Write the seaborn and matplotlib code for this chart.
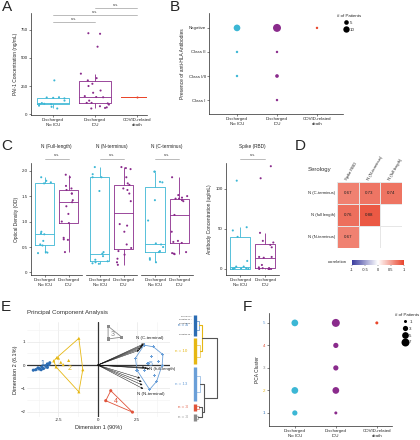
import numpy as np
import pandas as pd
import seaborn as sns
import matplotlib.pyplot as plt
from matplotlib.colors import LinearSegmentedColormap, Normalize
from matplotlib.cm import ScalarMappable
from matplotlib.lines import Line2D

sns.set_style('ticks')
plt.rcParams['font.family'] = ['Liberation Sans', 'DejaVu Sans']
np.random.seed(3)

# ---- data ----
groups = ['Discharged\nNo ICU', 'Discharged\nICU', 'COVID-related\ndeath']
group_colors = ['#3cb7d5', '#8a2b8c', '#e9462b']

# A: PAI-1 concentration (ng/mL)
pai_noicu = [300, 150, 148, 145, 140, 120, 98, 92, 90, 88, 75, 65, 50]
pai_icu = [720, 715, 600, 360, 320, 300, 270, 250, 210, 190, 160, 152, 150,
           120, 100, 100, 95, 85, 70, 60, 55, 50]
pai_death = [155]

# B: anti-HLA antibodies (# of patients)
hla_levels = ['Class I', 'Class I/II', 'Class II', 'Negative']
hla_group = [0, 0, 0, 1, 1, 1, 1, 2]
hla_class = ['Negative', 'Class II', 'Class I/II', 'Negative', 'Class II', 'Class I/II', 'Class I', 'Negative']
hla_n = [11, 1, 1, 16, 1, 3, 1, 1]

# C: serology (OD / ug/mL)
fl_noicu = [0.38, 0.39, 0.40, 0.53, 0.55, 0.62, 0.75, 0.77, 0.80, 1.75, 1.77, 1.80, 1.87]
fl_icu = [0.40, 0.64, 0.65, 0.68, 0.97, 1.00, 1.15, 1.30, 1.38, 1.42, 1.55, 1.55, 1.62, 1.65, 1.70, 1.87, 1.92]
nt_noicu = [0.17, 0.18, 0.20, 0.22, 0.25, 0.32, 0.37, 0.40, 1.60, 1.87, 1.87, 1.93, 2.07]
nt_icu = [0.15, 0.20, 0.27, 0.35, 0.42, 0.48, 0.55, 0.80, 0.92, 0.95, 1.40, 1.55, 1.62, 1.65,
          1.72, 1.75, 1.87, 2.03, 2.05, 2.07]
ct_noicu = [0.20, 0.25, 0.28, 0.40, 0.42, 0.50, 0.55, 0.57, 1.02, 1.42, 1.77, 1.78, 1.98, 1.98]
ct_icu = [0.36, 0.37, 0.38, 0.40, 0.58, 0.60, 0.62, 0.80, 1.13, 1.40, 1.42, 1.45, 1.45, 1.47, 1.50, 1.52, 1.87]
rbd_noicu = [0, 0, 0, 0.5, 1, 1, 3, 3, 10, 40, 48, 52, 110]
rbd_icu = [0, 0, 0, 0, 0.5, 1, 1, 2, 5, 14, 15, 15, 27, 30, 33, 35, 45, 113, 128]
c_titles = ['N (Full-length)', 'N (N-terminus)', 'N (C-terminus)', 'Spike (RBD)']

# D: correlation
corr_rows = ['N (C-terminus)', 'N (full length)', 'N (N-terminus)']
corr_cols = ['Spike RBD', 'N (N-terminus)', 'N (full length)']
corr_vals = [[0.67, 0.73, 0.74], [0.76, 0.88, np.nan], [0.67, np.nan, np.nan]]

# E: PCA
clust_colors = {1: '#2b6cb3', 2: '#e6b713', 3: '#8a8a8a', 4: '#e0533a', 5: '#6a9fd8'}
e_dim1 = {1: [-4.1, -3.95, -3.8, -3.7, -3.55, -3.45, -3.3, -3.2, -3.1, -3.05, -3.2, -3.6],
          2: [-2.8, -2.6, -2.5, -2.35, -2.2, -2.65, -1.85, -1.2, -0.95, -1.2],
          3: [0.66, 0.66, 1.53],
          4: [0.83, 0.51, 2.21],
          5: [2.4, 2.95, 3.55, 4.15, 4.1, 3.75, 3.3, 2.5, 3.45, 3.0, 3.85, 3.2, 3.6]}
e_dim2 = {1: [-0.22, -0.2, -0.12, -0.16, -0.08, -0.15, -0.05, -0.1, 0.02, 0.1, 0.05, -0.2],
          2: [0.18, 0.32, 0.3, 0.12, 0.02, -0.08, 0.2, 1.15, -0.2, -1.15],
          3: [1.67, 1.12, 1.2],
          4: [-1.1, -1.53, -2.02],
          5: [0.3, 0.86, 0.78, 0.45, 0.0, -0.7, -1.05, -0.22, 0.35, -0.25, 0.15, 0.05, -0.45]}
load_dim1 = [2.95, 2.9, 2.85, 2.75, 2.65, 3.3, 3.15, 3.0, 2.9, 2.85, 2.8, 2.7]
load_dim2 = [0.92, 0.86, 0.8, 0.72, 0.64, -0.16, -0.13, -0.1, -1.02, -0.86, -0.72, -0.56]
load_names = ['N (C-terminal)', 'N (full-length)', 'N (N-terminal)']
dend_leaves = [8, 10, 13, 3, 3]
dend_n = ['n = 4', 'n = 10', 'n = 13', 'n = 3', 'n = 3']
dend_sub_h = [0.12, 0.18, 0.2, 0.14, 0.1]
leaf_names = ['No Serum', 'Negative #1', 'Negative #2', 'Negative #3']

# F: PCA cluster by outcome
pca_group = [0, 0, 0, 1, 1, 1, 1, 1, 2]
pca_cluster = [5, 2, 1, 5, 4, 3, 2, 1, 5]
pca_n = [5, 5, 3, 7, 3, 3, 5, 1, 1]

# ---- figure ----
W, H = 420, 440
fig = plt.figure(figsize=(4.2, 4.4), dpi=100)
FS = 3.2


def px_axes(l, t, r, b):
    return fig.add_axes([l / W, 1 - b / H, (r - l) / W, (b - t) / H])


def small(ax):
    ax.tick_params(labelsize=FS, length=1.5, width=0.4, pad=1)
    for s in ax.spines.values():
        s.set_linewidth(0.5)
    sns.despine(ax=ax)


def sig(ax, x0, x1, y, dy):
    ax.plot([x0, x1], [y, y], color='#b0b0b0', lw=0.6, clip_on=False)
    ax.text((x0 + x1) / 2, y + dy, 'n.s.', fontsize=FS - 0.4, ha='center', va='bottom', color='#444444')


def letter(x, y, s):
    fig.text(x / W, 1 - y / H, s, fontsize=11, va='top', ha='left')


def long_df(vals_list, names):
    rows = []
    for v, g in zip(vals_list, names):
        rows += [(g, x) for x in v]
    return pd.DataFrame(rows, columns=['group', 'value'])


def box_strip(ax, df, order, pal, width, jit):
    sns.boxplot(df, x='group', y='value', hue='group', order=order, hue_order=order, palette=pal,
                fill=False, width=width, linewidth=0.6, showfliers=False, showcaps=False,
                legend=False, ax=ax)
    sns.stripplot(df, x='group', y='value', hue='group', order=order, hue_order=order, palette=pal,
                  size=1.5, jitter=jit, legend=False, ax=ax)
    ax.set_xlabel('')


# A
axA = px_axes(31, 13, 147, 115)
dfA = long_df([pai_noicu, pai_icu, pai_death], groups)
box_strip(axA, dfA, groups, group_colors, 0.75, 0.35)
axA.set_xlim(-0.52, 2.24)
axA.set_ylim(-8, 900)
axA.set_yticks([0, 250, 500, 750])
axA.set_ylabel('PAI-1 Concentration (ng/mL)', fontsize=FS + 0.3, labelpad=2)
small(axA)
sig(axA, 0, 1, 820, 12)
sig(axA, 0, 2, 882, 12)
sig(axA, 1, 2, 944, 12)
letter(2, 0, 'A')

# B
axB = px_axes(209, 13, 343, 114)
dfB = pd.DataFrame({'gx': hla_group, 'cy': [hla_levels.index(c) for c in hla_class],
                    'group': [groups[g] for g in hla_group], 'n': hla_n})
sns.scatterplot(dfB, x='gx', y='cy', hue='group', hue_order=groups, palette=group_colors,
                size='n', sizes=(3, 33), size_norm=(1, 16), edgecolor='none', legend=False, ax=axB)
axB.set_xlim(-0.7, 2.65)
axB.set_ylim(-0.58, 3.62)
axB.set_xticks(range(3), groups)
axB.set_yticks(range(4), hla_levels)
axB.set_xlabel('')
axB.set_ylabel('Presence of anti-HLA Antibodies', fontsize=FS + 0.3, labelpad=2)
small(axB)
hb = [Line2D([], [], marker='o', ls='none', color='black', markeredgewidth=0,
             markersize=np.sqrt(3 + 30 * (v - 1) / 15)) for v in (5, 10)]
axB.legend(hb, ['5', '10'], title='# of Patients', loc='upper left', bbox_to_anchor=(335 / W, 1 - 12 / H),
           bbox_transform=fig.transFigure, frameon=False, fontsize=FS, title_fontsize=FS,
           handletextpad=0.4, labelspacing=0.6, borderpad=0, handlelength=1)
letter(170, 0, 'B')

# C
c_sets = [(fl_noicu, fl_icu), (nt_noicu, nt_icu), (ct_noicu, ct_icu), (rbd_noicu, rbd_icu)]
c_box = [(31, 82), (86, 137), (141, 193), (226, 279)]
for i, ((a, b), (l, r)) in enumerate(zip(c_sets, c_box)):
    ax = px_axes(l, 163, r, 275)
    dfc = long_df([a, b], groups[:2])
    box_strip(ax, dfc, groups[:2], group_colors[:2], 0.8, 0.35)
    ax.set_xlim(-0.58, 1.56)
    small(ax)
    if i == 3:
        ax.set_ylim(-7.5, 132)
        ax.set_yticks([0, 50, 100])
        ax.set_ylabel('Antibody Concentration (ug/mL)', fontsize=FS + 0.3, labelpad=2)
    else:
        ax.set_ylim(-0.05, 2.15)
        ax.set_yticks([0, 0.5, 1.0, 1.5, 2.0], ['0', '0.5', '1.0', '1.5', '2.0'])
        if i == 0:
            ax.set_ylabel('Optical Density (OD)', fontsize=FS + 0.3, labelpad=2)
        else:
            ax.set_ylabel('')
            ax.spines['left'].set_visible(False)
            ax.tick_params(axis='y', left=False, labelleft=False)
    ax.set_xticks([0, 1], groups[:2])
    ax.text(0.5, 1.145, c_titles[i], transform=ax.transAxes, fontsize=FS + 0.2, ha='center', va='center')
    ax.plot([0, 1], [1.036, 1.036], transform=ax.get_xaxis_transform(), color='#b0b0b0', lw=0.6, clip_on=False)
    ax.text(0.5, 1.05, 'n.s.', transform=ax.get_xaxis_transform(), fontsize=FS - 0.4, ha='center', va='bottom',
            color='#444444')
letter(1, 139, 'C')

# D
cmap = LinearSegmentedColormap.from_list('corr', ['#3a3c9e', '#ffffff', '#e8432b'])
axD = px_axes(337, 182, 402, 248)
dfD = pd.DataFrame(corr_vals, index=corr_rows, columns=corr_cols)
sns.heatmap(dfD, ax=axD, cmap=cmap, vmin=-1, vmax=1, annot=True, fmt='.2f',
            annot_kws={'size': FS, 'color': '#222222'}, cbar=False, linewidths=0.4, linecolor='#e6e6e6')
axD.xaxis.tick_top()
axD.tick_params(length=0, labelsize=FS - 0.2, pad=1)
plt.setp(axD.get_xticklabels(), rotation=60, ha='left', rotation_mode='anchor')
plt.setp(axD.get_yticklabels(), rotation=0)
fig.text(319 / W, 1 - 169 / H, 'Serology', fontsize=4.3, ha='center', va='center', color='#333333')
cax = px_axes(352, 260, 404, 265)
cb = fig.colorbar(ScalarMappable(Normalize(-1, 1), cmap), cax=cax, orientation='horizontal')
cb.set_ticks([-1, -0.5, 0, 0.5, 1], labels=['-1', '-0.5', '0', '0.5', '1'])
cb.outline.set_visible(False)
cax.tick_params(labelsize=FS - 0.3, length=1, width=0.3, pad=1)
fig.text(347 / W, 1 - 262 / H, 'correlation', fontsize=FS - 0.2, ha='right', va='center')
letter(295, 139, 'D')

# E
axE = px_axes(27, 322, 170, 417)
rows = []
for k in e_dim1:
    rows += [(k, x, y) for x, y in zip(e_dim1[k], e_dim2[k])]
dfE = pd.DataFrame(rows, columns=['cluster', 'dim1', 'dim2'])
axE.set_xticks([-2.5, 0, 2.5], ['-2.5', '0', '2.5'])
axE.set_yticks([-2, -1, 0, 1])
axE.set_xticks([-3.75, -1.25, 1.25, 3.75], minor=True)
axE.set_yticks([-1.5, -0.5, 0.5, 1.5], minor=True)
axE.grid(True, which='major', color='#e8e8e8', lw=0.5)
axE.grid(True, which='minor', color='#f2f2f2', lw=0.4)
axE.set_axisbelow(True)
for s in axE.spines.values():
    s.set_visible(False)
axE.tick_params(which='both', length=0, labelsize=FS, pad=1)
axE.axhline(0, color='#333333', lw=0.9, zorder=1)
axE.axvline(0, color='#333333', lw=0.9, zorder=1)


def hull(pts):
    pts = sorted(set(pts))

    def cross(o, a, b):
        return (a[0] - o[0]) * (b[1] - o[1]) - (a[1] - o[1]) * (b[0] - o[0])
    lo, up = [], []
    for p in pts:
        while len(lo) >= 2 and cross(lo[-2], lo[-1], p) <= 0:
            lo.pop()
        lo.append(p)
    for p in reversed(pts):
        while len(up) >= 2 and cross(up[-2], up[-1], p) <= 0:
            up.pop()
        up.append(p)
    return lo[:-1] + up[:-1]


for k in e_dim1:
    hp = hull(list(zip(e_dim1[k], e_dim2[k])))
    hx, hy = zip(*(hp + hp[:1]))
    axE.plot(hx, hy, color=clust_colors[k], lw=0.6, zorder=2)
sns.scatterplot(dfE, x='dim1', y='dim2', hue='cluster', style='cluster', palette=clust_colors,
                markers={1: 'o', 2: '^', 3: 's', 4: 'o', 5: 'P'}, s=5, edgecolor='none',
                legend=False, ax=axE, zorder=3)
for k in e_dim1:
    cx, cy = np.mean(e_dim1[k]), np.mean(e_dim2[k])
    axE.text(cx + (0.25 if k == 2 else 0), cy + (-0.25 if k == 2 else 0.15 if k == 1 else 0), str(k),
             color=clust_colors[k], fontsize=5, ha='center', va='center', zorder=4)
for x, y in zip(load_dim1, load_dim2):
    axE.annotate('', xy=(x, y), xytext=(0, 0),
                 arrowprops=dict(arrowstyle='-|>', lw=0.35, color='#111111', mutation_scale=3,
                                 shrinkA=0, shrinkB=0), zorder=5)
axE.text(3.3, 1.17, load_names[0], fontsize=FS, ha='center', va='center', zorder=6)
axE.text(3.25, -0.16, load_names[1], fontsize=FS, ha='left', va='center', zorder=6)
axE.text(3.4, -1.24, load_names[2], fontsize=FS, ha='center', va='center', zorder=6)
axE.set_xlim(-4.5, 4.6)
axE.set_ylim(-2.23, 1.85)
axE.set_xlabel('Dimension 1 (90%)', fontsize=FS + 0.8, labelpad=2)
axE.set_ylabel('Dimension 2 (6.1%)', fontsize=FS + 0.8, labelpad=2)
axE.set_title('Principal Component Analysis', fontsize=FS + 1.2, loc='left', pad=6, color='#333333')
letter(1, 300, 'E')

# dendrogram
axT = px_axes(170, 313, 222, 426)
axT.set_axis_off()
axT.set_xlim(-1.238, 1.238)
axT.set_ylim(41.5, -1.2)
gap = 0.8
starts = np.cumsum([0] + dend_leaves[:-1]) + gap * np.arange(len(dend_leaves))
mids = []
for c, (st, nl) in enumerate(zip(starts, dend_leaves)):
    col = clust_colors[[1, 2, 5, 4, 3][c]]
    axT.vlines(-0.07, st - 0.4, st + nl - 0.6, color=col, lw=2.4)
    mid = st + (nl - 1) / 2
    mids.append(mid)
    axT.text(-0.4, mid, dend_n[c], color=col, fontsize=FS, ha='right', va='center')
    a, b = st + (nl - 1) * 0.25, st + (nl - 1) * 0.75
    h = dend_sub_h[c]
    axT.plot([0, h, h, 0], [a, a, b, b], color=col, lw=0.4)
for nm, p in zip(leaf_names, [0, 1.3, 2.6, 7]):
    axT.text(-0.2, starts[0] + p, nm + ' =', fontsize=1.5, ha='right', va='center')


def link(ya, ha, yb, hb, h, col='#555555'):
    axT.plot([ha, h, h, hb], [ya, ya, yb, yb], color=col, lw=0.8)


link(mids[0], dend_sub_h[0], mids[1], dend_sub_h[1], 0.3, clust_colors[2])
ab = (mids[0] + mids[1]) / 2
link(mids[3], dend_sub_h[3], mids[4], dend_sub_h[4], 0.28)
rg = (mids[3] + mids[4]) / 2
link(mids[2], dend_sub_h[2], rg, 0.28, 0.36)
lb = (mids[2] + rg) / 2
link(ab, 0.3, lb, 0.36, 1.0)

# F
axF = px_axes(269, 313, 392, 426)
dfF = pd.DataFrame({'gx': pca_group, 'cl': pca_cluster, 'group': [groups[g] for g in pca_group], 'n': pca_n})
sns.scatterplot(dfF, x='gx', y='cl', hue='group', hue_order=groups, palette=group_colors,
                size='n', sizes=(4.7, 33), size_norm=(1, 7), edgecolor='none', legend=False, ax=axF)
axF.set_xlim(-0.63, 2.37)
axF.set_ylim(0.42, 5.44)
axF.set_xticks(range(3), groups)
axF.set_yticks(range(1, 6))
for lab, k in zip(axF.get_yticklabels(), range(1, 6)):
    lab.set_color(clust_colors[k])
axF.set_xlabel('')
axF.set_ylabel('PCA Cluster', fontsize=FS + 0.3, labelpad=2)
small(axF)
hf = [Line2D([], [], marker='o', ls='none', color='black', markeredgewidth=0,
             markersize=np.sqrt(4.7 + 28.3 * (v - 1) / 6)) for v in (1, 3, 5, 7)]
axF.legend(hf, ['1', '3', '5', '7'], title='# of Patients', loc='upper left', bbox_to_anchor=(393 / W, 1 - 311 / H),
           bbox_transform=fig.transFigure, frameon=False, fontsize=FS, title_fontsize=FS,
           handletextpad=0.4, labelspacing=0.6, borderpad=0, handlelength=1)
letter(243, 300, 'F')

fig.savefig('out.png', dpi=100)
